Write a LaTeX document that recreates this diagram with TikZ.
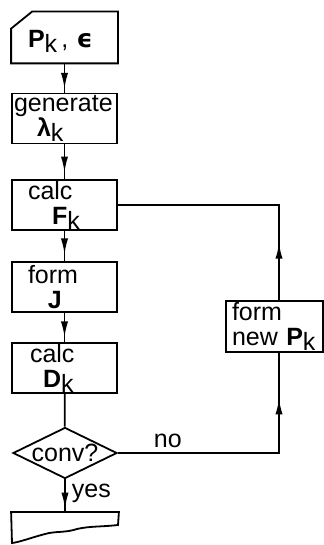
\documentclass[tikz,border=0pt]{standalone}
\usepackage{fontspec}
\setmainfont{Liberation Sans}
\newfontfamily\dejavu{DejaVu Sans}
\usetikzlibrary{shapes.geometric, arrows.meta, positioning, decorations.markings}

\newcommand{\lowk}[1]{\raisebox{-2.5pt}{#1}}

\begin{document}
\begin{tikzpicture}[x=0.5pt, y=-0.5pt,
  line width=0.9pt,
  font=\fontsize{12.5}{12.5}\selectfont,
  box/.style={rectangle, draw, minimum width=52.5pt, minimum height=25pt,
              text width=50.5pt, inner xsep=1pt, inner ysep=0pt, align=left},
  test/.style={diamond, draw, aspect=2, inner sep=0pt,
               minimum width=52pt, minimum height=25pt},
  arrowat/.style={postaction={decorate}, decoration={markings,
      mark=at position #1 with {\arrow{Latex[length=8pt, width=3.6pt]}}}},
]
  \path[fill=white, use as bounding box] (0,0) rectangle (324,545);

  \node[box, draw=none, text height=13pt] (start) at (64.5,37.5)
    {\hspace*{7pt}\textbf{P}\lowk{k}\,, {\dejavu\bfseries ϵ}};
  \draw (start.south west) -- ([yshift=-8.5pt]start.north west)
    -- ([xshift=10.5pt]start.north west) -- (start.north east)
    -- (start.south east) -- cycle;

  \node[box] (gen) at (64.5,118.5) {generate\\\hspace*{11.5pt}\textbf{λ}\lowk{k}};
  \node[box] (calcF) at (64.5,205) {\hspace*{7pt}calc\\\hspace*{19pt}\textbf{F}\lowk{k}};
  \node[box] (formJ) at (64.5,287) {\hspace*{7pt}form\\\hspace*{17pt}\textbf{J}};
  \node[box] (calcD) at (64.5,368) {\hspace*{8pt}calc\\\hspace*{14.5pt}\textbf{D}\lowk{k}};
  \node[test] (conv) at (65,453) {conv?};

  \node[minimum width=53pt, minimum height=15.5pt, inner sep=0pt, anchor=north]
    (stop) at (65,512) {};
  \draw (stop.north west) -- (stop.north east) -- (118,525)
    .. controls (100,527) and (90,526) .. (77,529)
    .. controls (65,533) and (55,531) .. (45,534)
    .. controls (30,538) and (20,542) .. (12,543) -- cycle;

  \node[box, minimum width=48.5pt, minimum height=25.5pt, text width=42.5pt,
        inner xsep=3pt] (newP) at (274.5,326.5) {form\\new \textbf{P}\lowk{k}};
  \coordinate (loopx) at (279,0);

  \draw[arrowat=0.87] (start) -- (gen);
  \draw[arrowat=0.81] (gen) -- (calcF);
  \draw[arrowat=0.78] (calcF) -- (formJ);
  \draw[arrowat=0.84] (formJ) -- (calcD);
  \draw (calcD) -- (conv);
  \draw[arrowat=0.9] (conv) -- node[right, pos=0.42, inner sep=3pt] {yes} (stop);
  \draw[arrowat=0.826] (conv.east) -- node[above, pos=0.31, inner sep=2pt] {no}
    (conv.east -| loopx) -- (newP.south -| loopx);
  \draw[arrowat=0.224] (newP.north -| loopx) -- (calcF.east -| loopx) -- (calcF.east);
\end{tikzpicture}
\end{document}
